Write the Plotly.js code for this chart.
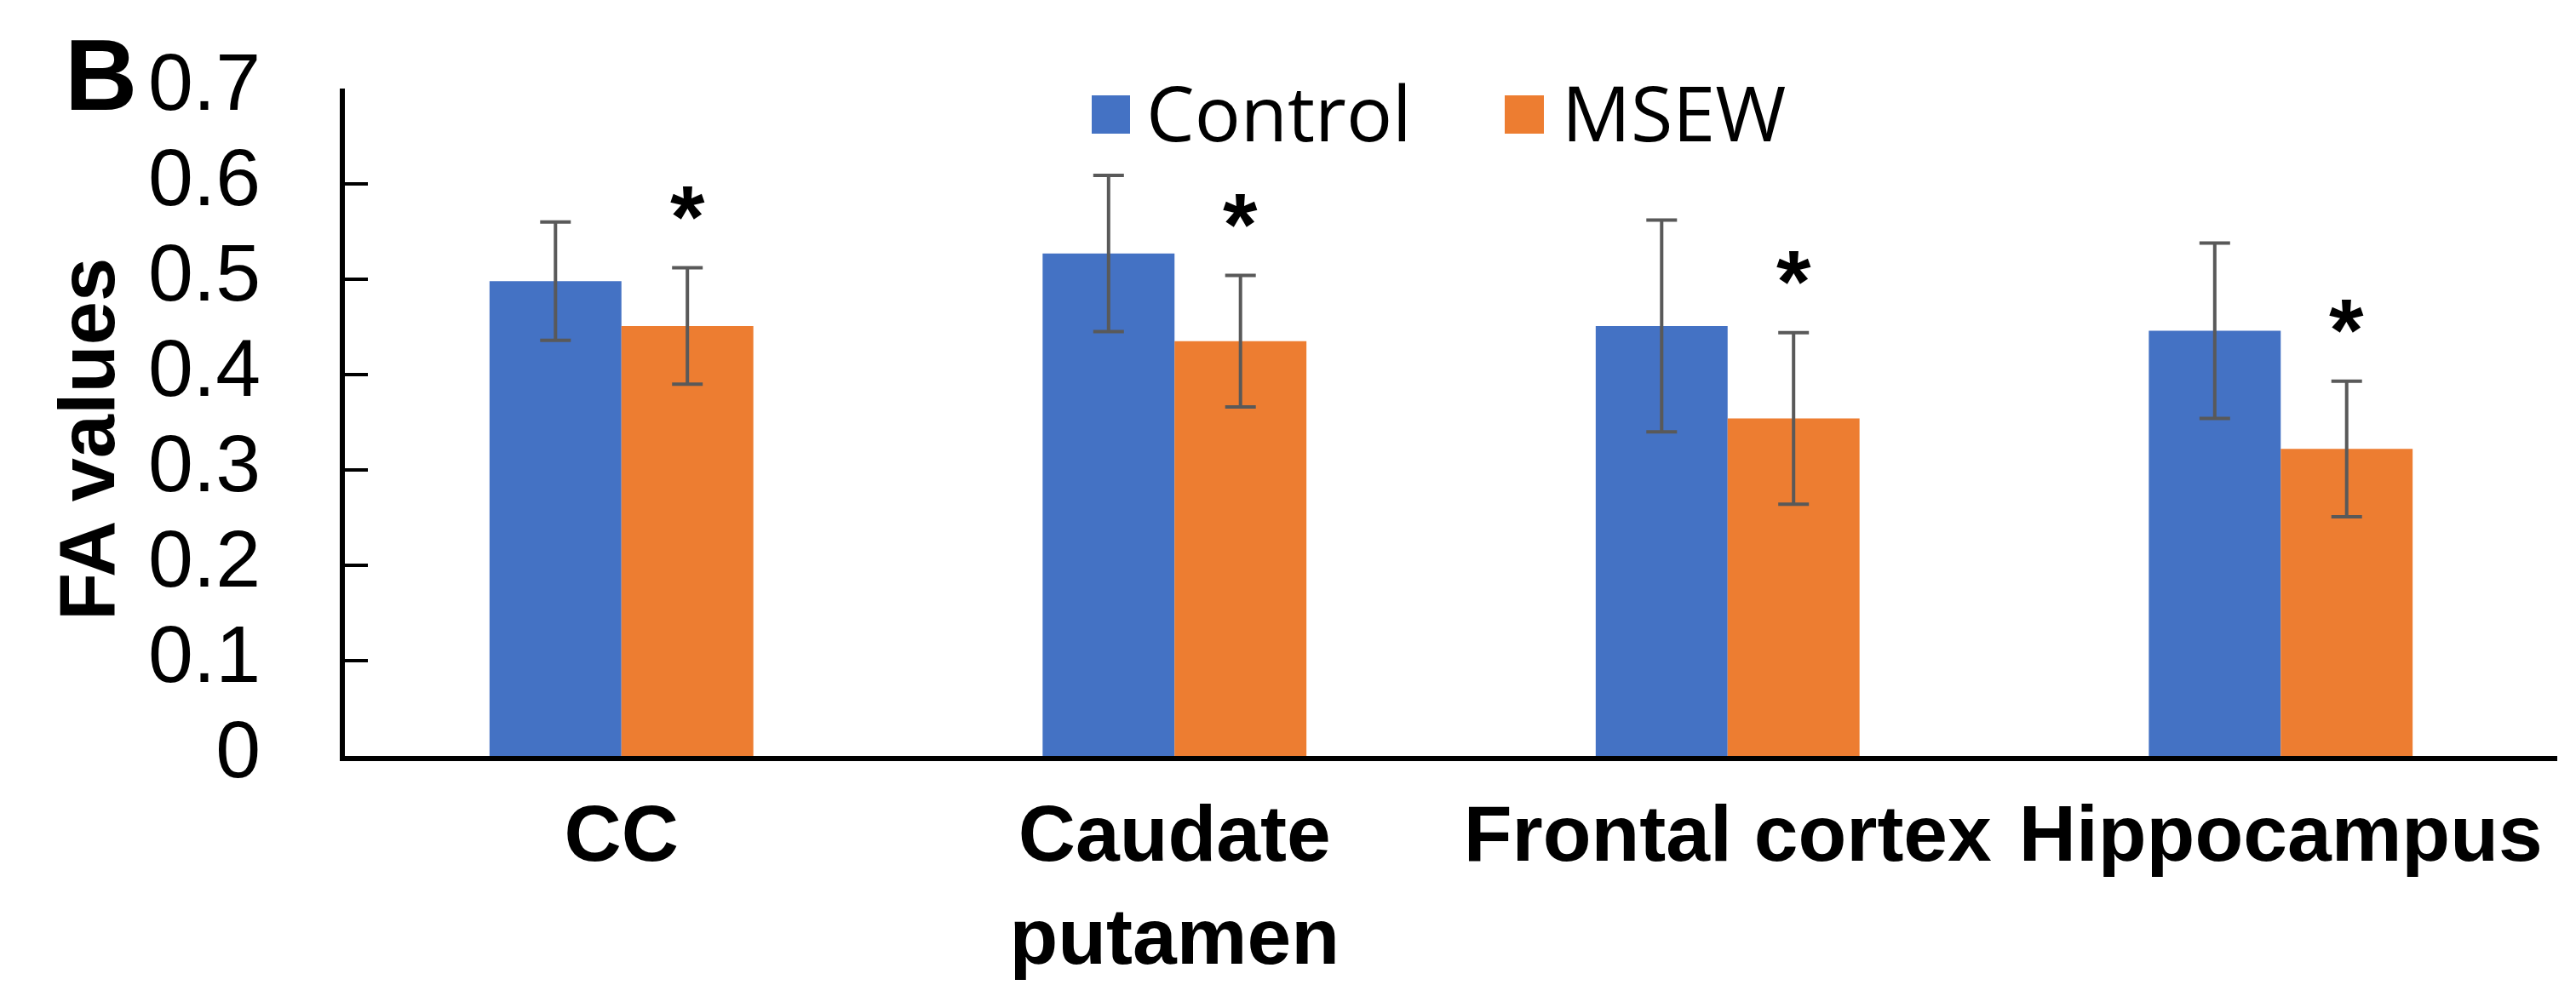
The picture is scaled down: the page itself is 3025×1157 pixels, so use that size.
<!DOCTYPE html>
<html>
<head>
<meta charset="utf-8">
<script src="https://cdn.plot.ly/plotly-3.0.1.min.js"></script>
<style>
  html, body { margin: 0; padding: 0; background: #ffffff; }
  #chart { width: 3025px; height: 1157px; }
</style>
</head>
<body>
<div id="chart"></div>
<script>
// ---- data ----
const categories = ['CC', 'Caudate<br>putamen', 'Frontal cortex', 'Hippocampus'];
const controlValues = [0.498, 0.527, 0.451, 0.446];
const controlErrors = [0.062, 0.082, 0.111, 0.092];
const msewValues = [0.451, 0.435, 0.354, 0.322];
const msewErrors = [0.061, 0.069, 0.090, 0.071];
const significance = ['*', '*', '*', '*'];
const seriesNames = ['Control', 'MSEW'];
const yTickValues = [0, 0.1, 0.2, 0.3, 0.4, 0.5, 0.6, 0.7];
const yTickLabels = ['0', '0.1', '0.2', '0.3', '0.4', '0.5', '0.6', '0.7'];
const yAxisTitle = 'FA values';
const panelLabel = 'B';

// ---- styling ----
const W = 3025, H = 1157;
const M = { l: 405, r: 22, t: 104, b: 269 };
const plotW = W - M.l - M.r, plotH = H - M.t - M.b;
const px = x => (x - M.l) / plotW;          // page px -> paper x
const py = y => (H - M.b - y) / plotH;      // page px -> paper y
const BLUE = '#4472C4', ORANGE = '#ED7D31', ERR = '#595959';
const BARGAP = 0.523;
const SANS = 'Liberation Sans, Arial, sans-serif';
const LEG = 'Open Sans, Noto Sans, sans-serif';

const errStyle = { type: 'data', visible: true, color: ERR, thickness: 4, width: 18 };

const traces = [
  {
    type: 'bar', name: seriesNames[0], x: categories, y: controlValues,
    marker: { color: BLUE, line: { width: 0 } },
    error_y: Object.assign({ array: controlErrors }, errStyle),
    showlegend: false, hoverinfo: 'skip'
  },
  {
    type: 'bar', name: seriesNames[1], x: categories, y: msewValues,
    marker: { color: ORANGE, line: { width: 0 } },
    error_y: Object.assign({ array: msewErrors }, errStyle),
    showlegend: false, hoverinfo: 'skip'
  }
];

const annotations = [];
// significance stars above MSEW bars
const orangeOffset = (1 - BARGAP) / 4;
significance.forEach((s, i) => {
  annotations.push({
    xref: 'x', yref: 'y', x: i + orangeOffset, y: msewValues[i] + msewErrors[i],
    text: s, showarrow: false, xanchor: 'center', yanchor: 'bottom',
    font: { family: SANS, size: 104, color: '#000', weight: 'bold' }
  });
});
// y-axis title
annotations.push({
  xref: 'paper', yref: 'paper', x: px(102), y: py(516), text: yAxisTitle,
  textangle: -90, showarrow: false, xanchor: 'center', yanchor: 'middle',
  font: { family: SANS, size: 92, color: '#000', weight: 'bold' }
});
// panel letter
annotations.push({
  xref: 'paper', yref: 'paper', x: px(118), y: py(88), text: panelLabel,
  showarrow: false, xanchor: 'center', yanchor: 'middle',
  font: { family: SANS, size: 118, color: '#000', weight: 'bold' }
});
// legend texts
annotations.push({
  xref: 'paper', yref: 'paper', x: px(1344), y: py(131), text: seriesNames[0],
  showarrow: false, xanchor: 'left', yanchor: 'middle',
  font: { family: LEG, size: 90, color: '#000' }
});
annotations.push({
  xref: 'paper', yref: 'paper', x: px(1832), y: py(131), text: seriesNames[1],
  showarrow: false, xanchor: 'left', yanchor: 'middle',
  font: { family: LEG, size: 90, color: '#000' }
});

const shapes = [
  { type: 'rect', xref: 'paper', yref: 'paper', x0: px(1282), x1: px(1327), y0: py(157), y1: py(112),
    fillcolor: BLUE, line: { width: 0 } },
  { type: 'rect', xref: 'paper', yref: 'paper', x0: px(1767), x1: px(1813), y0: py(157), y1: py(112),
    fillcolor: ORANGE, line: { width: 0 } }
];

const layout = {
  width: W, height: H,
  margin: M,
  paper_bgcolor: '#ffffff', plot_bgcolor: '#ffffff',
  barmode: 'group', bargap: BARGAP, bargroupgap: 0,
  showlegend: false,
  xaxis: {
    type: 'category',
    showline: true, linecolor: '#000', linewidth: 6,
    ticks: '', showgrid: false, zeroline: false,
    tickfont: { family: SANS, size: 93, color: '#000', weight: 'bold' },
    ticklabelstandoff: 5,
    fixedrange: true
  },
  yaxis: {
    range: [0, 0.7],
    tickmode: 'array', tickvals: yTickValues, ticktext: yTickLabels,
    showline: true, linecolor: '#000', linewidth: 6,
    ticks: 'inside', ticklen: 27, tickwidth: 4, tickcolor: '#000',
    showgrid: false, zeroline: false,
    tickfont: { family: SANS, size: 95, color: '#000' },
    ticklabelstandoff: 74,
    ticklabelshift: -8,
    fixedrange: true
  },
  annotations: annotations,
  shapes: shapes
};

Plotly.newPlot('chart', traces, layout, { displayModeBar: false, staticPlot: true });
</script>
</body>
</html>
